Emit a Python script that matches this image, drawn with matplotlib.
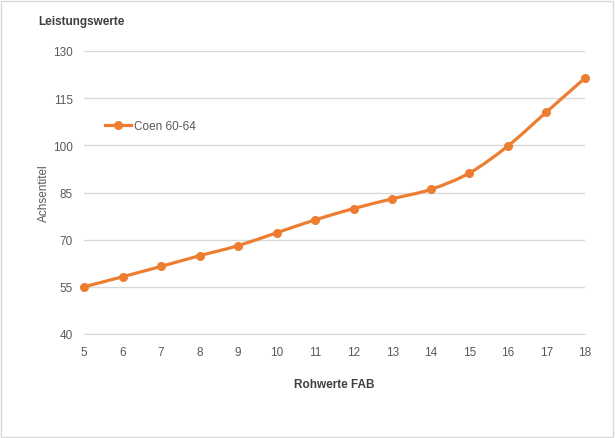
import numpy as np
import matplotlib
matplotlib.use("Agg")
from matplotlib import pyplot as plt
from matplotlib.path import Path
from matplotlib.patches import PathPatch, Rectangle
from matplotlib.lines import Line2D

# data
rohwerte = [5, 6, 7, 8, 9, 10, 11, 12, 13, 14, 15, 16, 17, 18]
leistung = [55, 58.2, 61.5, 64.9, 68.1, 72.2, 76.3, 79.9, 83.0, 86.0, 91.2, 99.8, 110.6, 121.4]
y_ticks = [40, 55, 70, 85, 100, 115, 130]
series_name = "Coen 60-64"

orange = "#ED7D31"
grey_txt = "#595959"
grid_col = "#D9D9D9"

plt.rcParams['font.family'] = ['Liberation Sans', 'DejaVu Sans']

fig = plt.figure(figsize=(6.15, 4.39), dpi=100)
ax = fig.add_axes([84 / 615, 1 - 335 / 439, 501 / 615, 283 / 439])

# smoothed line like excel (cubic bezier through the points)
pts = np.column_stack([rohwerte, leistung]).astype(float)
n = len(pts)
verts = [pts[0]]
codes = [Path.MOVETO]
for i in range(n - 1):
    p0 = pts[i - 1] if i > 0 else pts[i]
    p1 = pts[i]
    p2 = pts[i + 1]
    p3 = pts[i + 2] if i + 2 < n else pts[i + 1]
    c1 = p1 + (p2 - p0) / 6
    c2 = p2 - (p3 - p1) / 6
    verts += [c1, c2, p2]
    codes += [Path.CURVE4] * 3
ax.add_patch(PathPatch(Path(verts, codes), fill=False, edgecolor=orange, clip_on=False,
                       lw=2.3, capstyle='round', joinstyle='round', zorder=3))
ax.plot(rohwerte, leistung, ls='none', marker='o', ms=5.5, color=orange, zorder=4,
        clip_on=False)

ax.set_xlim(5, 18)
ax.set_ylim(40, 130)
ax.set_xticks(rohwerte)
ax.set_yticks(y_ticks)
ax.tick_params(length=0, labelsize=8.5, labelcolor=grey_txt)
ax.tick_params(axis='x', pad=9)
ax.tick_params(axis='y', pad=8)
ax.grid(axis='y', color=grid_col, lw=1)
ax.set_axisbelow(True)
for s in ['top', 'right', 'left']:
    ax.spines[s].set_visible(False)
ax.spines['bottom'].set_color(grid_col)

ax.set_ylabel("Achsentitel", fontsize=8.5, color=grey_txt)
ax.yaxis.set_label_coords(-34 / 501, 0.5)
ax.set_xlabel("Rohwerte FAB", fontsize=8.5, color="#404040", fontweight='bold', labelpad=14)

fig.text(38 / 615, 1 - 22 / 439, "Leistungswerte", fontsize=8.5, fontweight='bold',
         color="#404040", va='center', ha='left')

# legend
leg_handle = Line2D([], [], color=orange, lw=2.3, marker='o', ms=5.5)
ax.legend([leg_handle], [series_name], loc='center left', bbox_to_anchor=(0.02, 0.735),
          frameon=False, fontsize=8.5, labelcolor=grey_txt, handlelength=2.2,
          handletextpad=0.3)

# chart border
fig.patches.append(Rectangle((0.002, 0.002), 0.995, 0.994, transform=fig.transFigure,
                             fill=False, edgecolor=grid_col, lw=1))

fig.savefig("out.png", dpi=100)
